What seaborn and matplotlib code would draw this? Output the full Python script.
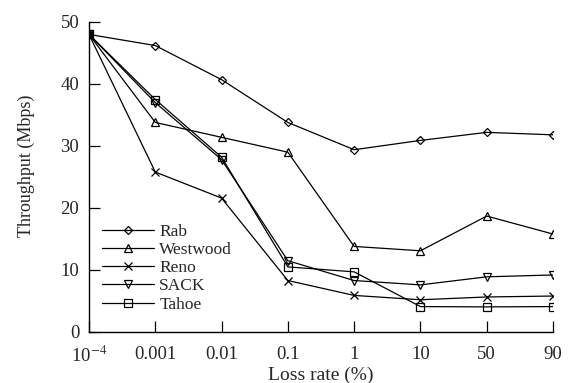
import numpy as np
import pandas as pd
import matplotlib
matplotlib.use('Agg')
import matplotlib.pyplot as plt
import seaborn as sns

# loss rate categories (equally spaced on the x axis)
loss_labels = [r'10$^{-4}$', '0.001', '0.01', '0.1', '1', '10', '50', '90']

# throughput (Mbps)
rab      = [48.0, 46.2, 40.7, 33.8, 29.4, 30.9, 32.2, 31.8]
westwood = [48.0, 33.8, 31.4, 29.0, 13.8, 13.1, 18.7, 15.8]
reno     = [48.0, 25.8, 21.6, 8.3, 5.9, 5.2, 5.65, 5.8]
sack     = [48.0, 37.0, 27.8, 11.5, 8.3, 7.6, 8.9, 9.2]
tahoe    = [48.0, 37.5, 28.2, 10.5, 9.7, 4.1, 4.05, 4.1]

series = {'Rab': rab, 'Westwood': westwood, 'Reno': reno, 'SACK': sack, 'Tahoe': tahoe}
marker_map = {'Rab': 'D', 'Westwood': '^', 'Reno': 'x', 'SACK': 'v', 'Tahoe': 's'}
size_map = {'Rab': 4.5, 'Westwood': 6, 'Reno': 6, 'SACK': 6, 'Tahoe': 6}

sns.set_style('ticks')
plt.rcParams['font.family'] = ['Liberation Serif', 'DejaVu Serif']
plt.rcParams['mathtext.fontset'] = 'stix'

fig = plt.figure(figsize=(5.68, 3.83), dpi=100)
ax = fig.add_axes([89/568, 1 - 332/383, 464/568, 310/383])

for name, vals in series.items():
    sns.lineplot(x=np.arange(len(vals)), y=vals, color='black', linewidth=0.9,
                 marker=marker_map[name], markersize=size_map[name],
                 markerfacecolor='none', markeredgecolor='black',
                 markeredgewidth=0.9, label=name, ax=ax)

ax.legend(loc='upper left', bbox_to_anchor=(0.028, 0.35), frameon=False,
          fontsize=12.5, handlelength=3.0, handletextpad=0.3,
          labelspacing=0.12, borderpad=0, borderaxespad=0)

ax.set_xlim(0, 7)
ax.set_ylim(0, 50)
ax.set_xticks(range(8))
ax.set_xticklabels(loss_labels)
ax.set_yticks([0, 10, 20, 30, 40, 50])
ax.tick_params(direction='in', length=8, width=0.9, labelsize=13.5, color='black')
ax.tick_params(axis='x', pad=10)
ax.tick_params(axis='y', pad=7)
ax.set_xlabel('Loss rate (%)', fontsize=14, labelpad=0)
ax.set_ylabel('Throughput (Mbps)', fontsize=13)
ax.yaxis.set_label_coords(-0.116, 0.535)
sns.despine(ax=ax)
for s in ['left', 'bottom']:
    ax.spines[s].set_linewidth(1.0)
    ax.spines[s].set_color('black')

fig.savefig('out.png', dpi=100)
